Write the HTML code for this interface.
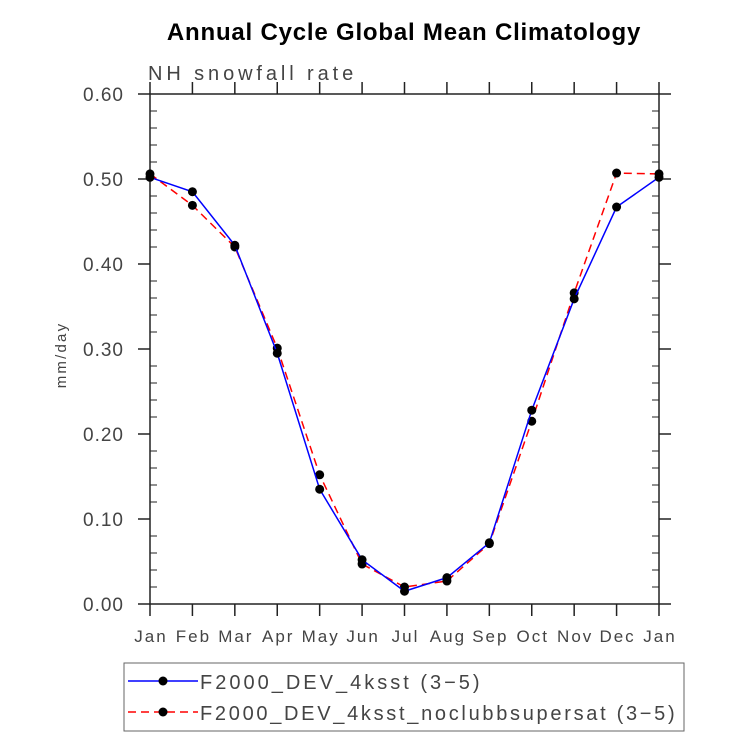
<!DOCTYPE html>
<html><head><meta charset="utf-8"><style>
body{margin:0;background:#fff;}
svg text{font-family:"Liberation Sans",sans-serif;}
</style></head><body>
<svg id="chart" width="733" height="737" xmlns="http://www.w3.org/2000/svg">
<text x="404" y="40" text-anchor="middle" font-size="24" font-weight="bold" letter-spacing="0.8">Annual Cycle Global Mean Climatology</text>
<text x="148" y="80" font-size="20" fill="#444" letter-spacing="3.9">NH snowfall rate</text>
<text transform="translate(66,355) rotate(-90)" text-anchor="middle" font-size="15" fill="#444" letter-spacing="2.2">mm/day</text>
<g id="axes"></g>
<g id="series"></g>
<g>
<rect x="124" y="663" width="560" height="68" fill="none" stroke="#666" stroke-width="1"/>
<line x1="128" y1="681" x2="198" y2="681" stroke="#0000ff" stroke-width="1.5"/>
<circle cx="163" cy="681" r="4.5" fill="#000"/>
<text x="200" y="689" font-size="20" fill="#444" letter-spacing="3">F2000_DEV_4ksst (3−5)</text>
<line x1="128" y1="712" x2="198" y2="712" stroke="#ff0000" stroke-width="1.5" stroke-dasharray="8,5"/>
<circle cx="163" cy="712" r="4.5" fill="#000"/>
<text x="200" y="720" font-size="20" fill="#444" letter-spacing="2.7">F2000_DEV_4ksst_noclubbsupersat (3−5)</text>
</g>
</svg>
<script>
const months=["Jan","Feb","Mar","Apr","May","Jun","Jul","Aug","Sep","Oct","Nov","Dec","Jan"];
const blueVals=[0.502,0.485,0.422,0.295,0.135,0.052,0.015,0.031,0.072,0.228,0.359,0.467,0.502];
const redVals=[0.506,0.469,0.420,0.301,0.152,0.047,0.020,0.027,0.071,0.215,0.366,0.507,0.506];
const yTicks=[0,0.1,0.2,0.3,0.4,0.5,0.6];
const yTickLabels=["0.00","0.10","0.20","0.30","0.40","0.50","0.60"];
const NS="http://www.w3.org/2000/svg";
const X0=150,X1=659,Y0=604,Y1=94;
function xs(i){return X0+(X1-X0)*i/(months.length-1);}
function ys(v){return Y0-(Y0-Y1)*v/0.6;}
function mk(tag,attrs,parent){const e=document.createElementNS(NS,tag);for(const k in attrs)e.setAttribute(k,attrs[k]);parent.appendChild(e);return e;}
const ax=document.getElementById('axes');
const fr=mk('rect',{x:X0,y:Y1,width:X1-X0,height:Y0-Y1,fill:'none',stroke:'#222','stroke-width':1.5},ax);


months.forEach((m,i)=>{
  const x=xs(i);
  mk('line',{x1:x,y1:Y0,x2:x,y2:Y0+12,stroke:'#222','stroke-width':1.5},ax);
  mk('line',{x1:x,y1:Y1,x2:x,y2:Y1-12,stroke:'#222','stroke-width':1.5},ax);
  const t=mk('text',{x:x+1,y:642,'text-anchor':'middle','font-size':17,fill:'#444','letter-spacing':2},ax);
  t.textContent=m;
  
  
});
yTicks.forEach((v,i)=>{
  const y=ys(v);
  mk('line',{x1:X0-12,y1:y,x2:X0,y2:y,stroke:'#222','stroke-width':1.5},ax);
  mk('line',{x1:X1,y1:y,x2:X1+12,y2:y,stroke:'#222','stroke-width':1.5},ax);
  const t=mk('text',{x:124,y:y+7,'text-anchor':'end','font-size':19,fill:'#444','letter-spacing':1},ax);
  t.textContent=yTickLabels[i];
  
  
  if(i<yTicks.length-1){for(let k=1;k<5;k++){const yy=ys(v+0.02*k);
    mk('line',{x1:X0,y1:yy,x2:X0+7,y2:yy,stroke:'#222','stroke-width':1},ax);
    mk('line',{x1:X1-7,y1:yy,x2:X1,y2:yy,stroke:'#222','stroke-width':1},ax);}}
});
const sg=document.getElementById('series');
function drawSeries(vals,color,dash,name){
  const pts=vals.map((v,i)=>xs(i)+','+ys(v)).join(' ');
  const pl=mk('polyline',{points:pts,fill:'none',stroke:color,'stroke-width':1.5,'stroke-dasharray':dash},sg);
  
  
  vals.forEach((v,i)=>{
    const c=mk('circle',{cx:xs(i),cy:ys(v),r:4.5,fill:'#000'},sg);
    
    
  });
}
drawSeries(redVals,'#ff0000','8,5','noclubbsupersat');
drawSeries(blueVals,'#0000ff','none','dev-4ksst');
</script>
</body></html>
